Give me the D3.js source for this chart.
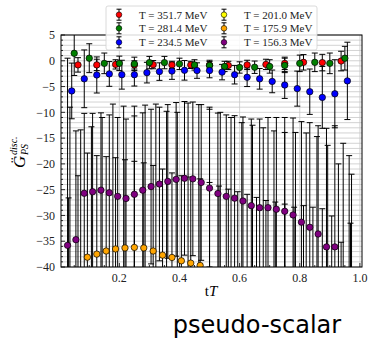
<!DOCTYPE html>
<html>
<head>
<meta charset="utf-8">
<script src="https://cdn.jsdelivr.net/npm/d3@7"></script>
<style>
  body { margin: 0; background: #fff; }
  svg { display: block; }
</style>
</head>
<body>
<svg id="svg"></svg>
<script>
const width = 369;
const height = 341;

const plot = { left: 61, right: 362, top: 35, bottom: 267 };

// temperatures and number of time slices (tT = t / Nt, t = 1 .. Nt-1)
const seriesNames = ["T = 351.7 MeV", "T = 281.4 MeV", "T = 234.5 MeV",
                     "T = 201.0 MeV", "T = 175.9 MeV", "T = 156.3 MeV"];
const seriesNt = [16, 20, 24, 28, 32, 36];
const seriesColors = ["red", "green", "blue", "yellow", "orange", "purple"];

// values
const g351 = [-0.8, -0.8, -0.7, -0.8, -0.75, -0.8, -0.8, -0.85, -0.9, -0.8, -0.7, -0.5, -0.3, -0.35, -0.05];
const g351Err = [1.4, 1.1, 0.9, 0.8, 0.8, 0.7, 0.7, 0.7, 0.8, 0.9, 1.0, 1.2, 1.5, 1.6, 1.9];

const g281 = [1.45, 0.5, -0.5, -0.5, -0.6, -0.35, -0.35, -0.6, -0.8, -0.9, -1.1, -1.3, -1.25, -1.1, -0.9, -0.5, -0.3, -0.5, 0.5];
const g281Err = [4.3, 2.8, 2.0, 1.4, 1.3, 1.2, 1.2, 1.1, 1.0, 1.0, 1.0, 1.1, 1.2, 1.3, 1.4, 1.6, 1.8, 2.0, 2.3];

const g234 = [-5.85, -3.5, -2.75, -2.55, -2.7, -2.7, -2.3, -2.1, -2.0, -1.85, -1.9, -1.9, -2.2, -2.7, -3.2, -3.5, -4.0, -4.7, -5.4, -6.0, -7.1, -6.4, -3.9];
const g234Err = [5.4, 5.6, 3.5, 2.4, 2.8, 2.2, 2.0, 1.7, 1.6, 1.9, 1.5, 1.4, 1.5, 1.8, 1.8, 2.0, 2.2, 2.6, 3.4, 4.4, 6.0, 6.6, 7.5];

const g201 = [-62, -58, -56, -55, -54, -53.5, -53, -53, -53, -53, -53.5, -54, -54.5, -55, -55.5, -56, -56.5, -57, -57.5, -58, -58.5, -59, -59.5, -60, -61, -63, -64];
const g201Err = [53, 44.6, 43.2, 44, 45.6, 44.7, 44.2, 44.4, 44.6, 43.2, 43.5, 45.8, 46, 46, 45.5, 45, 44.5, 44.5, 44.5, 44.4, 44.6, 45.1, 45.5, 45.3, 44.6, 43, 45.6];

const g175 = [-45, -41, -38.1, -37.5, -36.9, -36.5, -36.3, -36.2, -36.3, -36.9, -37.7, -38.15, -38.8, -39.25, -39.7,
              -40.9, -41.1, -41.6, -42.1, -42.6, -43.2, -43.8, -44.1, -44.5, -45.1, -44.8, -45.1, -45.4, -46.8, -52, -48.5];
const g175Err = [18.4, 18.7, 20.2, 19.1, 18.3, 17.7, 17.1, 16.7, 16.5, 16.6, 16.7, 16.4, 16.5, 16.7, 16.8,
                 17.3, 16.8, 16.7, 16.7, 16.7, 16.7, 16.7, 16.7, 16.7, 16.7, 16.7, 16.7, 16.7, 16.7, 16.8, 17];

const g156 = [-35.8, -34.7, -25.7, -25.4, -25.1, -25.6, -26.3, -26.7, -25.9, -25.1, -24.4, -23.9, -23.4, -23.0, -22.8,
              -22.9, -23.6, -24.7, -25.75, -26.3, -26.65, -27.2, -28.1, -28.5, -28.5, -28.8, -29.2, -29.9, -31.3, -32.3,
              -33.6, -36.1, -36.1, -44, -52];
const g156Err = [36.3, 21.1, 15.5, 15.2, 15.0, 15.1, 15.3, 15.4, 15.2, 15.0, 15.0, 14.9, 14.9, 14.9, 14.9,
                 14.9, 15.1, 15.3, 15.6, 15.8, 16.0, 16.3, 16.8, 17.2, 17.5, 17.8, 18.2, 18.8, 19.5, 20.3,
                 21.0, 23.0, 23.5, 28, 30];

const seriesValues = [g351, g281, g234, g201, g175, g156];
const seriesErrors = [g351Err, g281Err, g234Err, g201Err, g175Err, g156Err];

const yTicks = [5, 0, -5, -10, -15, -20, -25, -30, -35, -40];
const xTicks = [0.2, 0.4, 0.6, 0.8, 1.0];

const svg = d3.select("#svg")
    .attr("width", width)
    .attr("height", height)
    .attr("viewBox", [0, 0, width, height]);

const xScale = d3.scaleLinear().domain([0.006, 1.007]).range([plot.left, plot.right]);
const yScale = d3.scaleLinear().domain([-40, 5]).range([plot.bottom, plot.top]);

svg.append("defs").append("clipPath").attr("id", "clip")
    .append("rect")
    .attr("x", plot.left).attr("y", plot.top)
    .attr("width", plot.right - plot.left).attr("height", plot.bottom - plot.top);

// grid: every unit on y, majors on x
const grid = svg.append("g").attr("stroke", "#c8c8c8").attr("stroke-width", 0.8);
grid.selectAll(".hgrid")
    .data(d3.range(-40, 6, 1))
    .enter().append("line")
    .attr("x1", plot.left).attr("x2", plot.right)
    .attr("y1", d => yScale(d)).attr("y2", d => yScale(d));
grid.selectAll(".vgrid")
    .data(xTicks)
    .enter().append("line")
    .attr("x1", d => xScale(d)).attr("x2", d => xScale(d))
    .attr("y1", plot.top).attr("y2", plot.bottom);

const data = [];
seriesValues.forEach((vals, s) => {
    vals.forEach((v, i) => {
        data.push({ s: s, x: (i + 1) / seriesNt[s], y: v, e: seriesErrors[s][i] });
    });
});

const content = svg.append("g").attr("clip-path", "url(#clip)");

// error bars under all markers
const bars = content.append("g").attr("stroke", "#000").attr("stroke-width", 1);
bars.selectAll(".bar")
    .data(data)
    .enter().append("line")
    .attr("x1", d => xScale(d.x)).attr("x2", d => xScale(d.x))
    .attr("y1", d => yScale(d.y + d.e)).attr("y2", d => yScale(d.y - d.e));
bars.selectAll(".capTop")
    .data(data)
    .enter().append("line")
    .attr("x1", d => xScale(d.x) - 3).attr("x2", d => xScale(d.x) + 3)
    .attr("y1", d => yScale(d.y + d.e)).attr("y2", d => yScale(d.y + d.e));
bars.selectAll(".capBottom")
    .data(data)
    .enter().append("line")
    .attr("x1", d => xScale(d.x) - 3).attr("x2", d => xScale(d.x) + 3)
    .attr("y1", d => yScale(d.y - d.e)).attr("y2", d => yScale(d.y - d.e));

content.append("g")
    .selectAll("circle")
    .data(data)
    .enter().append("circle")
    .attr("cx", d => xScale(d.x))
    .attr("cy", d => yScale(d.y))
    .attr("r", 3.2)
    .attr("fill", d => seriesColors[d.s])
    .attr("stroke", "#000")
    .attr("stroke-width", 0.7);

// axes frame
svg.append("rect")
    .attr("x", plot.left).attr("y", plot.top)
    .attr("width", plot.right - plot.left).attr("height", plot.bottom - plot.top)
    .attr("fill", "none").attr("stroke", "#000").attr("stroke-width", 1);

// ticks pointing inward
const ticks = svg.append("g").attr("stroke", "#000").attr("stroke-width", 0.8);
ticks.selectAll(".ymin")
    .data(d3.range(-40, 6, 1))
    .enter().append("line")
    .attr("x1", plot.left).attr("x2", d => plot.left + (d % 5 === 0 ? 4 : 2))
    .attr("y1", d => yScale(d)).attr("y2", d => yScale(d));
ticks.selectAll(".xmin")
    .data(d3.range(0.05, 1.001, 0.05))
    .enter().append("line")
    .attr("x1", d => xScale(d)).attr("x2", d => xScale(d))
    .attr("y1", plot.bottom)
    .attr("y2", d => plot.bottom - (Math.abs(d * 5 - Math.round(d * 5)) < 1e-6 ? 4 : 2));

const serif = "'Liberation Serif', 'DejaVu Serif', serif";

svg.append("g")
    .selectAll("text")
    .data(yTicks)
    .enter().append("text")
    .attr("x", plot.left - 6)
    .attr("y", d => yScale(d))
    .attr("dy", "0.35em")
    .attr("text-anchor", "end")
    .attr("font-family", serif)
    .attr("font-size", 12)
    .attr("fill", "#222")
    .text(d => d < 0 ? "\u2212" + Math.abs(d) : d);

svg.append("g")
    .selectAll("text")
    .data(xTicks)
    .enter().append("text")
    .attr("x", d => xScale(d))
    .attr("y", plot.bottom + 15)
    .attr("text-anchor", "middle")
    .attr("font-family", serif)
    .attr("font-size", 12)
    .attr("fill", "#222")
    .text(d => d.toFixed(1));

// x label: t (upright) T (italic)
const xl = svg.append("text")
    .attr("x", 211).attr("y", 296)
    .attr("text-anchor", "middle")
    .attr("font-family", serif)
    .attr("font-size", 15);
xl.append("tspan").text("t");
xl.append("tspan").attr("font-style", "italic").text("T");

// y label
const yl = svg.append("g")
    .attr("transform", "translate(25,168) rotate(-90)")
    .attr("font-family", serif)
    .attr("font-style", "italic");
yl.append("text").attr("x", 0).attr("y", 0).attr("font-size", 17).text("G\u0308");
yl.append("text").attr("x", 13).attr("y", -8).attr("font-size", 10).text("disc.");
yl.append("text").attr("x", 13).attr("y", 3).attr("font-size", 10).text("PS");

// legend
const legend = svg.append("g");
legend.append("rect")
    .attr("x", 106).attr("y", 6)
    .attr("width", 211).attr("height", 44)
    .attr("rx", 2)
    .attr("fill", "#fff").attr("fill-opacity", 0.85)
    .attr("stroke", "#d0d0d0").attr("stroke-width", 0.8);

const legX = [119, 224];
const legY = [14.7, 28.3, 42.3];
const entries = legend.selectAll(".entry")
    .data(seriesNames)
    .enter().append("g")
    .attr("transform", (d, i) => `translate(${legX[Math.floor(i / 3)]},${legY[i % 3]})`);
entries.append("line")
    .attr("y1", -5.5).attr("y2", 5.5)
    .attr("stroke", "#000").attr("stroke-width", 1);
entries.append("line")
    .attr("x1", -2.5).attr("x2", 2.5).attr("y1", -5.5).attr("y2", -5.5)
    .attr("stroke", "#000").attr("stroke-width", 1);
entries.append("line")
    .attr("x1", -2.5).attr("x2", 2.5).attr("y1", 5.5).attr("y2", 5.5)
    .attr("stroke", "#000").attr("stroke-width", 1);
entries.append("circle")
    .attr("r", 2.8)
    .attr("fill", (d, i) => seriesColors[i])
    .attr("stroke", "#000").attr("stroke-width", 0.6);
entries.append("text")
    .attr("x", 20)
    .attr("dy", "0.35em")
    .attr("font-family", serif)
    .attr("font-size", 11)
    .attr("fill", "#222")
    .text(d => d);

svg.append("text")
    .attr("x", 257).attr("y", 333)
    .attr("text-anchor", "middle")
    .attr("font-family", "'DejaVu Sans', sans-serif")
    .attr("font-size", 24)
    .text("pseudo-scalar");
</script>
</body>
</html>
